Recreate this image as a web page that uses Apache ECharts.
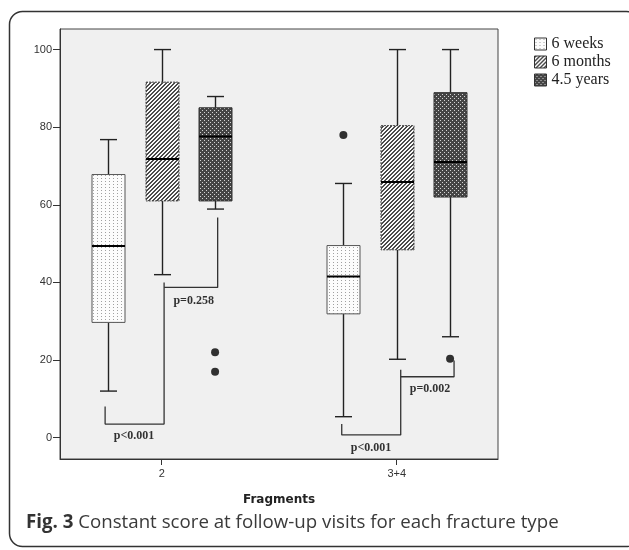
<!DOCTYPE html>
<html><head><meta charset="utf-8">
<script src="https://cdn.jsdelivr.net/npm/echarts@6/dist/echarts.min.js"></script>
<style>html,body{margin:0;padding:0;background:#fff}#c{width:629px;height:550px}</style>
</head><body><div id="c"></div>
<script>
// ---- data ----
const categories = ['2', '3+4'];
const seriesNames = ['6 weeks', '6 months', '4.5 years'];
// [min, Q1, median, Q3, max] for each category
const weeks6  = [[12.0, 29.7, 49.4, 67.8, 76.8], [5.4, 31.9, 41.5, 49.5, 65.5]];
const months6 = [[42.0, 61.0, 71.8, 91.6, 100], [20.2, 48.4, 65.9, 80.4, 100]];
const years45 = [[58.9, 61.0, 77.6, 85.0, 87.9], [26.0, 62.0, 71.0, 88.9, 100]];
// outliers: [categoryIndex, value]
const outliers6w  = [[1, 78]];
const outliers6m  = [];
const outliers45y = [[0, 22], [0, 17], [1, 20.3]];
const yTicks = [0, 20, 40, 60, 80, 100];
const xTicks = [0, 1];
// significance brackets, in [category units, score]
const bracketA = [[-0.241, 8.0], [-0.241, 3.5], [0.010, 3.5], [0.010, 40.0]];
const bracketB = [[0.010, 38.7], [0.238, 38.7], [0.238, 56.7]];
const bracketC = [[0.766, 3.5], [0.766, 0.7], [1.017, 0.7], [1.017, 17.5]];
const bracketD = [[1.017, 15.7], [1.244, 15.7], [1.244, 19.9]];
const pLabels = ['p<0.001', 'p=0.258', 'p<0.001', 'p=0.002'];
const pLabelPos = [[-0.118, 0.5], [0.136, 35.3], [0.891, -2.7], [1.142, 12.6]];
const caption = 'Constant score at follow-up visits for each fracture type';

// ---- layout constants ----
const OFFSETS = [-0.227, 0, 0.227];
const BOX_W = 33, CAP_W = 17;

// ---- patterns ----
function makeTile(w, h, bg, fg, fn) {
  const c = document.createElement('canvas');
  c.width = w; c.height = h;
  const g = c.getContext('2d');
  g.fillStyle = bg; g.fillRect(0, 0, w, h);
  g.fillStyle = fg;
  for (let x = 0; x < w; x++) for (let y = 0; y < h; y++) if (fn(x, y)) g.fillRect(x, y, 1, 1);
  return { image: c, repeat: 'repeat' };
}
const patDots = makeTile(4, 3, '#fcfcfc', '#a0a0a0', (x, y) => x === 1 && y === 1);
const patHatch = makeTile(4, 4, '#fafafa', '#4a4a4a', (x, y) => ((x + y) % 4) < 2);
const patCheck = makeTile(4, 4, '#454545', '#d4d4d4', (x, y) => (x === 0 && y === 0) || (x === 2 && y === 2));
const patterns = [patDots, patHatch, patCheck];
const borderStyles = [
  { stroke: '#555', lineDash: null },
  { stroke: '#444', lineDash: [2, 1] },
  { stroke: '#333', lineDash: null }
];

function makeRender(si) {
  return function (params, api) {
    const x = api.value(0) + OFFSETS[si];
    const pMin = api.coord([x, api.value(1)]);
    const pQ1 = api.coord([x, api.value(2)]);
    const pMed = api.coord([x, api.value(3)]);
    const pQ3 = api.coord([x, api.value(4)]);
    const pMax = api.coord([x, api.value(5)]);
    const cx = Math.round(pMin[0]) + 0.5;
    const hw = BOX_W / 2, cw = CAP_W / 2;
    const ws = { stroke: '#222', lineWidth: 1.4 };
    return {
      type: 'group',
      children: [
        { type: 'line', shape: { x1: cx, y1: pMax[1], x2: cx, y2: pQ3[1] }, style: ws },
        { type: 'line', shape: { x1: cx, y1: pQ1[1], x2: cx, y2: pMin[1] }, style: ws },
        { type: 'line', shape: { x1: cx - cw, y1: pMax[1], x2: cx + cw, y2: pMax[1] }, style: ws },
        { type: 'line', shape: { x1: cx - cw, y1: pMin[1], x2: cx + cw, y2: pMin[1] }, style: ws },
        { type: 'rect', shape: { x: cx - hw, y: pQ3[1], width: BOX_W, height: pQ1[1] - pQ3[1] },
          style: { fill: patterns[si], stroke: borderStyles[si].stroke, lineWidth: 1, lineDash: borderStyles[si].lineDash } },
        { type: 'line', shape: { x1: cx - hw, y1: pMed[1], x2: cx + hw, y2: pMed[1] }, style: { stroke: '#000', lineWidth: 2 } }
      ]
    };
  };
}

const boxData = [weeks6, months6, years45];
const outData = [outliers6w, outliers6m, outliers45y];
const series = [];
boxData.forEach((arr, si) => {
  series.push({
    type: 'custom', name: seriesNames[si],
    renderItem: makeRender(si),
    encode: { x: 0, y: [1, 2, 3, 4, 5] },
    itemStyle: { color: patterns[si], borderColor: '#333', borderWidth: 1 },
    data: arr.map((v, ci) => [ci].concat(v)),
    silent: true, z: 3
  });
});
outData.forEach((arr, si) => {
  if (!arr.length) return;
  series.push({
    type: 'scatter', name: 'out' + si, symbol: 'circle', symbolSize: 8,
    itemStyle: { color: '#000' },
    data: arr.map(p => [p[0] + OFFSETS[si], p[1]]),
    silent: true, z: 4
  });
});
[bracketA, bracketB, bracketC, bracketD].forEach((b, i) => {
  series.push({
    type: 'line', name: 'br' + i, data: b, symbol: 'none', silent: true,
    lineStyle: { color: '#333', width: 1.3 }, z: 2, animation: false
  });
});
series.push({
  type: 'scatter', name: 'plabels', symbolSize: 1, itemStyle: { color: 'rgba(0,0,0,0)' },
  data: pLabels.map((t, i) => ({ name: t, value: pLabelPos[i] })),
  label: { show: true, position: 'inside', formatter: '{b}', color: '#000',
    fontFamily: 'Liberation Serif', fontWeight: 'bold', fontSize: 12 },
  silent: true, z: 5
});

const chart = echarts.init(document.getElementById('c'), null, { renderer: 'canvas' });
chart.setOption({
  animation: false,
  backgroundColor: '#fff',
  grid: { left: 60, top: 29, width: 438, height: 430, show: true,
    backgroundColor: '#f0f0f0', borderColor: '#444', borderWidth: 1 },
  legend: {
    orient: 'vertical', left: 529, top: 31, itemWidth: 12, itemHeight: 12, itemGap: 2,
    icon: 'rect', selectedMode: false,
    textStyle: { fontFamily: 'Liberation Serif', fontSize: 16, color: '#222' },
    data: seriesNames.map((n, i) => ({ name: n, itemStyle: { color: patterns[i], borderColor: '#333', borderWidth: 1 } }))
  },
  xAxis: {
    type: 'value', min: -0.433, max: 1.431,
    name: 'Fragments', nameLocation: 'middle', nameGap: 35,
    nameTextStyle: { fontFamily: 'DejaVu Sans', fontWeight: 'bold', fontSize: 12, color: '#222' },
    axisLine: { show: true, onZero: false, lineStyle: { color: '#333', width: 1 } },
    axisTick: { show: true, length: 6, customValues: xTicks, lineStyle: { color: '#333' } },
    axisLabel: { customValues: xTicks, formatter: v => categories[Math.round(v)], margin: 9,
      fontFamily: 'Liberation Sans', fontSize: 11, color: '#333' },
    splitLine: { show: false }
  },
  yAxis: {
    type: 'value', min: -5.5, max: 105.3,
    axisLine: { show: true, onZero: false, lineStyle: { color: '#333', width: 1 } },
    axisTick: { show: true, length: 7, customValues: yTicks, lineStyle: { color: '#333' } },
    axisLabel: { customValues: yTicks, margin: 8, fontFamily: 'Liberation Sans', fontSize: 11, color: '#333' },
    splitLine: { show: false }
  },
  graphic: [
    { type: 'rect', shape: { x: 9.5, y: 11.5, width: 630, height: 535, r: 13 },
      style: { fill: 'none', stroke: '#333', lineWidth: 1.5 }, silent: true, z: -1 },
    { type: 'text', left: 26, top: 513,
      style: { text: '{b|Fig. 3} ' + caption,
        rich: { b: { fontFamily: 'Open Sans', fontWeight: 'bold', fontSize: 18.7, fill: '#333' } },
        fontFamily: 'Open Sans', fontSize: 18.7, fill: '#3a3a3a' } }
  ],
  series: series
});
</script></body></html>
